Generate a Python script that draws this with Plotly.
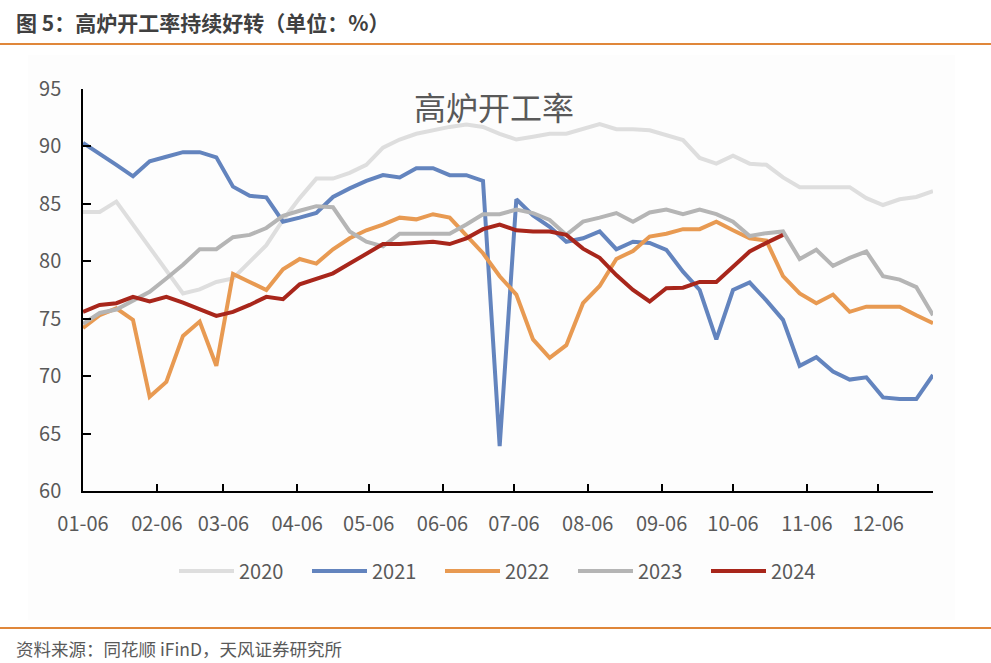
import plotly.graph_objects as go
import datetime as dt

# ---- data (weekly, starting 01-06) ----
start = dt.date(2023, 1, 6)
dates = [(start + dt.timedelta(days=7 * i)).isoformat() for i in range(52)]

y2020 = [84.3, 84.3, 85.2, 83.2, 81.1, 79.1, 77.2, 77.55, 78.2, 78.5,
         79.9, 81.4, 83.6, 85.5, 87.2, 87.2, 87.7, 88.4, 89.9, 90.6,
         91.1, 91.4, 91.7, 91.9, 91.7, 91.1, 90.6, 90.85, 91.1, 91.1,
         91.5, 91.95, 91.5, 91.5, 91.4, 91.0, 90.55, 89.0, 88.5, 89.2,
         88.5, 88.4, 87.3, 86.45, 86.45, 86.45, 86.45, 85.5, 84.9, 85.4,
         85.6, 86.1]
y2021 = [90.3, 89.4, 88.4, 87.4, 88.7, 89.1, 89.5, 89.5, 89.05, 86.5,
         85.7, 85.57, 83.45, 83.8, 84.2, 85.6, 86.35, 87.0, 87.5, 87.3,
         88.1, 88.1, 87.5, 87.5, 87.0, 63.9, 85.4, 84.0, 83.0, 81.7,
         82.0, 82.6, 81.05, 81.7, 81.6, 81.0, 79.1, 77.5, 73.2, 77.5,
         78.15, 76.6, 74.9, 70.9, 71.65, 70.4, 69.7, 69.9, 68.15, 68.0,
         68.0, 70.1]
y2022 = [74.2, 75.3, 75.9, 74.9, 68.2, 69.5, 73.5, 74.75, 70.9, 78.9,
         78.2, 77.5, 79.3, 80.2, 79.8, 81.05, 82.0, 82.7, 83.2, 83.8,
         83.65, 84.1, 83.8, 82.3, 80.7, 78.7, 77.1, 73.2, 71.6, 72.7,
         76.35, 77.85, 80.2, 80.9, 82.15, 82.4, 82.8, 82.8, 83.45, 82.7,
         82.0, 81.8, 78.7, 77.2, 76.35, 77.1, 75.6, 76.05, 76.05, 76.05,
         75.3, 74.6]
y2023 = [74.55, 75.5, 75.8, 76.6, 77.35, 78.5, 79.7, 81.05, 81.05, 82.1,
         82.3, 82.9, 83.95, 84.4, 84.8, 84.7, 82.6, 81.7, 81.3, 82.4,
         82.4, 82.4, 82.4, 83.2, 84.1, 84.1, 84.5, 84.2, 83.6, 82.3,
         83.45, 83.8, 84.2, 83.45, 84.25, 84.5, 84.1, 84.5, 84.1, 83.45,
         82.2, 82.45, 82.6, 80.2, 81.0, 79.6, 80.3, 80.85, 78.7, 78.4,
         77.75, 75.3]
y2024 = [75.6, 76.2, 76.35, 76.9, 76.5, 76.9, 76.4, 75.8, 75.25, 75.6,
         76.2, 76.9, 76.7, 78.0, 78.5, 78.95, 79.8, 80.7, 81.5, 81.5,
         81.6, 81.7, 81.5, 82.0, 82.8, 83.2, 82.7, 82.6, 82.6, 82.3,
         81.1, 80.3, 78.8, 77.5, 76.5, 77.65, 77.7, 78.2, 78.2, 79.55,
         80.85, 81.6, 82.3]

series_names = ["2020", "2021", "2022", "2023", "2024"]
series_values = [y2020, y2021, y2022, y2023, y2024]
series_colors = ["#DEDEDE", "#6384BE", "#E89A52", "#B5B5B5", "#A8261B"]

tick_vals = ["2023-%02d-06" % m for m in range(1, 13)]
tick_text = ["%02d-06" % m for m in range(1, 13)]
y_ticks = [60, 65, 70, 75, 80, 85, 90, 95]

FONT = "Noto Sans CJK SC"
GRAY = "#595959"

fig = go.Figure()
for name, vals, col in zip(series_names, series_values, series_colors):
    fig.add_trace(go.Scatter(
        x=dates[:len(vals)], y=vals, name=name, mode="lines",
        line=dict(color=col, width=4),
    ))

# plot area: x 83..933 px, y 89..491 px
L, R, T, B = 83, 991 - 933, 89, 663 - 491
PW, PH = 933 - 83, 491 - 89


def fx(px):
    return (px - 83) / PW


def fy(py):
    return (491 - py) / PH


fig.update_layout(
    width=991, height=663,
    margin=dict(l=L, r=R, t=T, b=B, pad=0),
    paper_bgcolor="white", plot_bgcolor="rgba(0,0,0,0)",
    font=dict(family=FONT, color=GRAY, size=20),
    showlegend=True,
    legend=dict(
        orientation="h", x=fx(174), xanchor="left", y=fy(571), yanchor="middle",
        font=dict(size=20, color=GRAY, family=FONT),
        itemwidth=55,
        entrywidth=63, entrywidthmode="pixels",
        bgcolor="rgba(0,0,0,0)",
    ),
    xaxis=dict(
        type="date", range=["2023-01-06", "2023-12-29"],
        tickvals=tick_vals, ticktext=tick_text,
        ticks="inside", ticklen=7, tickwidth=1.5, tickcolor="black",
        showline=True, linecolor="black", linewidth=1.5,
        showgrid=False, zeroline=False,
        tickfont=dict(size=20, color=GRAY, family=FONT),
        ticklabelstandoff=14,
    ),
    yaxis=dict(
        range=[60, 95], tickvals=y_ticks,
        ticks="inside", ticklen=8, tickwidth=1.5, tickcolor="black",
        showline=True, linecolor="black", linewidth=1.5,
        showgrid=False, zeroline=False,
        tickfont=dict(size=20, color=GRAY, family=FONT),
        ticklabelstandoff=16,
    ),
    shapes=[
        dict(type="rect", xref="paper", yref="paper",
             x0=fx(28), x1=fx(955), y0=fy(620), y1=fy(55),
             fillcolor="#FDFDFD", line=dict(width=0), layer="below"),
        dict(type="line", xref="paper", yref="paper",
             x0=fx(0), x1=fx(991), y0=fy(44), y1=fy(44),
             line=dict(color="#E0873A", width=2)),
        dict(type="line", xref="paper", yref="paper",
             x0=fx(0), x1=fx(991), y0=fy(628), y1=fy(628),
             line=dict(color="#E0873A", width=2)),
    ],
    annotations=[
        dict(text="<b>图 5：高炉开工率持续好转（单位：%）</b>", xref="paper", yref="paper",
             x=fx(14), y=fy(22), xanchor="left", yanchor="middle", showarrow=False,
             font=dict(size=21, color="#404040", family=FONT)),
        dict(text="资料来源：同花顺 iFinD，天风证券研究所", xref="paper", yref="paper",
             x=fx(14), y=fy(648), xanchor="left", yanchor="middle", showarrow=False,
             font=dict(size=17.5, color=GRAY, family=FONT)),
        dict(text="高炉开工率", xref="paper", yref="paper",
             x=fx(494), y=fy(106), xanchor="center", yanchor="middle", showarrow=False,
             font=dict(size=32, color=GRAY, family=FONT)),
    ],
)

fig.write_html("out.html", config={"displayModeBar": False},
               post_script="document.body.style.margin='0px';")
